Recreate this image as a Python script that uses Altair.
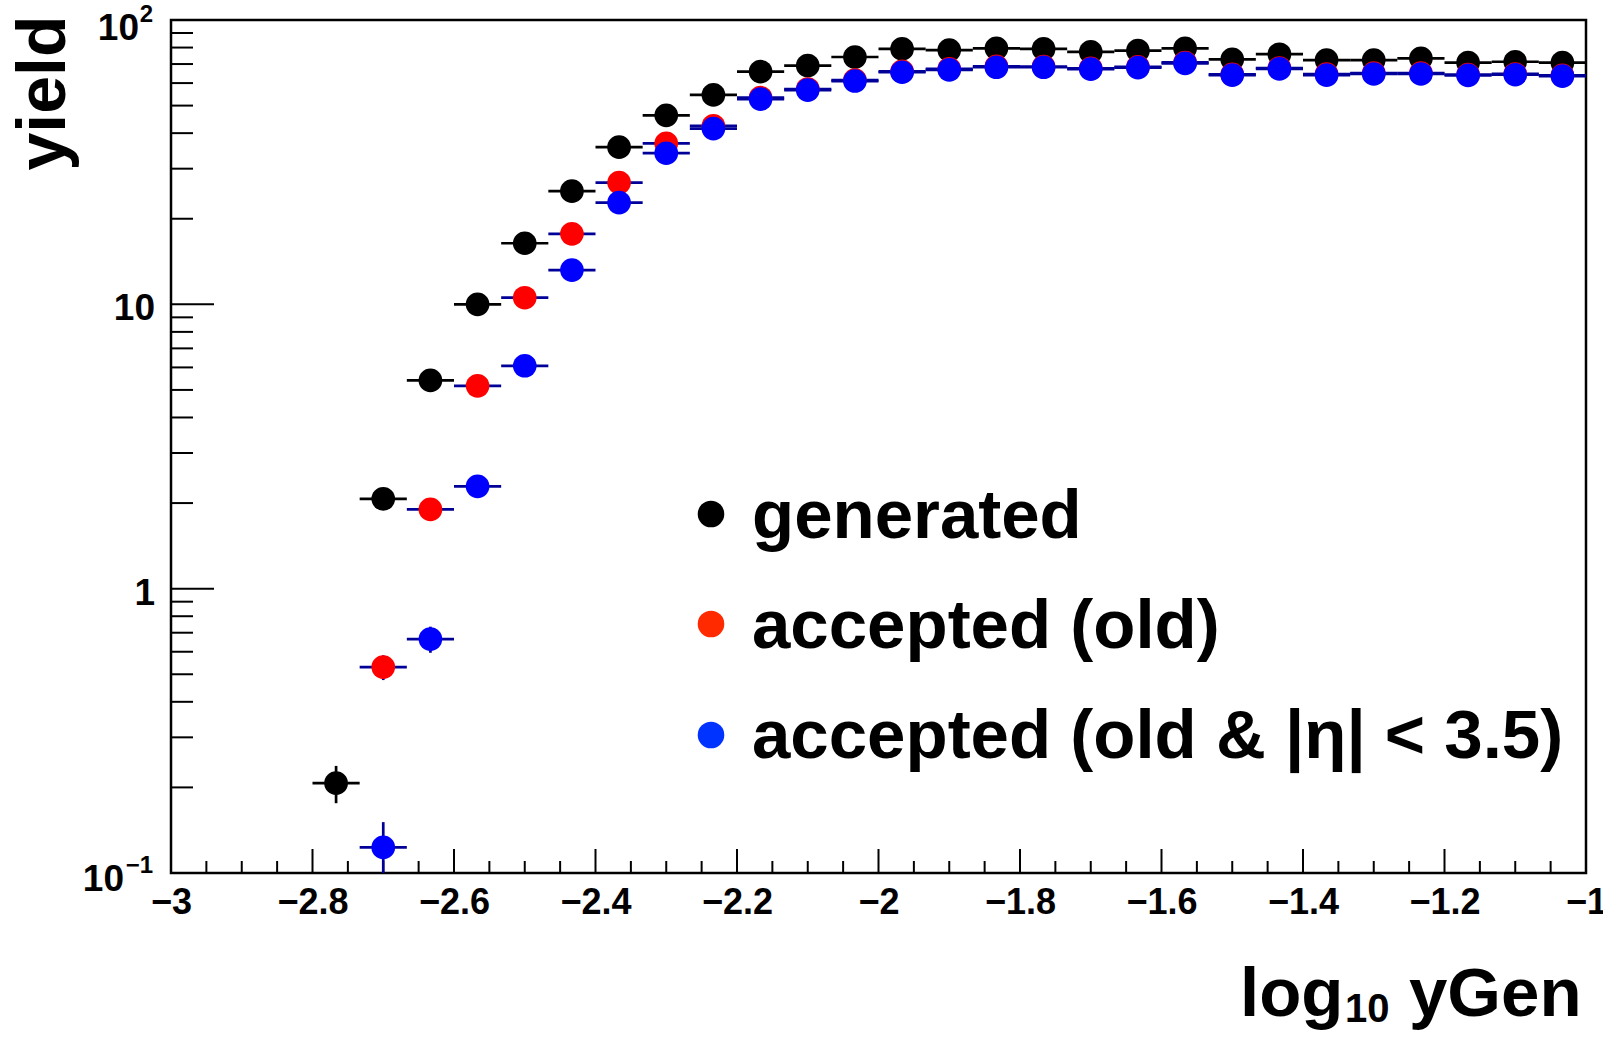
import altair as alt
import pandas as pd

# ---- histogram binning (30 bins of log10 yGen between -3 and -1) ----
x_lo, x_hi, n_bins = -3.0, -1.0, 30
bin_w = (x_hi - x_lo) / n_bins

# ---- data ----
gen_bins = list(range(3, 30))
gen_vals = [0.207, 2.07, 5.40, 10.0, 16.4, 25.0, 35.7, 46.2, 54.5, 65.8, 69.1, 74.1,
            79.1, 78.4, 79.5, 79.1, 77.2, 78.0, 79.5, 72.7, 75.8, 72.3, 72.3, 73.3,
            70.8, 71.3, 70.8]
gen_errs = [0.031, 0.10, 0.16, 0.22, 0.29, 0.35, 0.42, 0.48, 0.52, 0.57, 0.59, 0.61,
            0.63, 0.63, 0.63, 0.63, 0.62, 0.62, 0.63, 0.60, 0.62, 0.60, 0.60, 0.61,
            0.60, 0.60, 0.60]

old_bins = list(range(4, 30))
old_vals = [0.530, 1.90, 5.17, 10.55, 17.7, 26.8, 36.8, 42.4, 53.3, 57.2, 61.5, 66.0,
            67.3, 68.7, 68.6, 67.6, 68.4, 70.9, 64.4, 67.8, 64.5, 65.0, 65.1, 64.3,
            64.6, 63.9]
old_errs = [0.053, 0.10, 0.16, 0.23, 0.30, 0.37, 0.43, 0.46, 0.52, 0.54, 0.55, 0.57,
            0.58, 0.59, 0.59, 0.58, 0.58, 0.60, 0.57, 0.58, 0.57, 0.57, 0.57, 0.57,
            0.57, 0.57]

eta_bins = list(range(4, 30))
eta_vals = [0.123, 0.665, 2.29, 6.08, 13.2, 22.8, 34.0, 41.5, 52.7, 56.7, 61.0, 65.5,
            66.8, 68.2, 68.2, 67.2, 68.0, 70.4, 64.0, 67.3, 64.0, 64.6, 64.6, 63.9,
            64.2, 63.5]
eta_errs = [0.028, 0.07, 0.11, 0.17, 0.26, 0.34, 0.41, 0.46, 0.51, 0.53, 0.55, 0.57,
            0.58, 0.58, 0.58, 0.58, 0.58, 0.59, 0.57, 0.58, 0.57, 0.57, 0.57, 0.57,
            0.57, 0.56]

legend_labels = ["generated", "accepted (old)", "accepted (old & |\u03b7| < 3.5)"]
legend_colors = ["#000000", "#FF2A00", "#0033FF"]

x_major = [-3.0, -2.8, -2.6, -2.4, -2.2, -2.0, -1.8, -1.6, -1.4, -1.2, -1.0]
x_minor = [-2.95, -2.9, -2.85, -2.75, -2.7, -2.65, -2.55, -2.5, -2.45, -2.35, -2.3,
           -2.25, -2.15, -2.1, -2.05, -1.95, -1.9, -1.85, -1.75, -1.7, -1.65, -1.55,
           -1.5, -1.45, -1.35, -1.3, -1.25, -1.15, -1.1, -1.05]
y_major = [0.1, 1, 10, 100]
y_minor = [0.2, 0.3, 0.4, 0.5, 0.6, 0.7, 0.8, 0.9, 2, 3, 4, 5, 6, 7, 8, 9,
           20, 30, 40, 50, 60, 70, 80, 90]
# y tick labels: (value, mantissa text, exponent text)
y_labels = [(100, "10", "2"), (10, "10", ""), (1, "1", ""), (0.1, "10", "\u22121")]

FONT = "Liberation Sans, Arial, DejaVu Sans"
W, H = 1415, 853

xscale = alt.Scale(domain=[x_lo, x_hi], nice=False, zero=False)
yscale = alt.Scale(type="log", domain=[0.1, 100], nice=False)

x_axis = alt.Axis(values=x_major, labelExpr="format(datum.value, '.1~f')",
                  labelFont=FONT, labelFontSize=36, labelFontWeight="bold",
                  labelColor="black", labelPadding=12, labelFlush=False,
                  labelOverlap=False, ticks=False, domain=False, grid=False, title=None)
y_axis = alt.Axis(values=y_major, labels=False, ticks=False, domain=False, grid=False,
                  title="yield", titleFont=FONT, titleFontSize=68,
                  titleFontWeight="bold", titleColor="black", titleAngle=270,
                  titleAlign="right", titleBaseline="alphabetic",
                  titleX=-107, titleY=-5)


def X(field):
    return alt.X(field, scale=xscale, axis=x_axis)


def Y(field):
    return alt.Y(field, scale=yscale, axis=y_axis)


def frame(bins, vals, errs):
    lo = [x_lo + b * bin_w for b in bins]
    return pd.DataFrame({
        "lo": lo,
        "hi": [v + bin_w for v in lo],
        "c": [v + bin_w / 2 for v in lo],
        "v": vals,
        "ylo": [v - e for v, e in zip(vals, errs)],
        "yhi": [v + e for v, e in zip(vals, errs)],
    })


def series(df, color, bar_color):
    hbar = alt.Chart(df).mark_rule(color=bar_color, strokeWidth=2.7).encode(
        x=X("lo:Q"), x2="hi:Q", y=Y("v:Q"))
    vbar = alt.Chart(df).mark_rule(color=bar_color, strokeWidth=2.7, clip=True).encode(
        x=X("c:Q"), y=Y("ylo:Q"), y2="yhi:Q")
    pts = alt.Chart(df).mark_point(filled=True, shape="circle", size=560, color=color,
                                   opacity=1, strokeWidth=0).encode(
        x=X("c:Q"), y=Y("v:Q"))
    return [hbar, vbar, pts]


xt_major = alt.Chart(pd.DataFrame({"t": x_major})).mark_rule(color="black", strokeWidth=2).encode(
    x=X("t:Q"), y=alt.value(H), y2=alt.value(H - 24))
xt_minor = alt.Chart(pd.DataFrame({"t": x_minor})).mark_rule(color="black", strokeWidth=2).encode(
    x=X("t:Q"), y=alt.value(H), y2=alt.value(H - 12))
yt_major = alt.Chart(pd.DataFrame({"t": y_major})).mark_rule(color="black", strokeWidth=2).encode(
    y=Y("t:Q"), x=alt.value(0), x2=alt.value(43))
yt_minor = alt.Chart(pd.DataFrame({"t": y_minor})).mark_rule(color="black", strokeWidth=2).encode(
    y=Y("t:Q"), x=alt.value(0), x2=alt.value(22))

layers = [xt_major, xt_minor, yt_major, yt_minor]

# y tick labels with real superscripts
for val, mant, expo in y_labels:
    d = pd.DataFrame({"v": [val], "m": [mant], "e": [expo]})
    if expo:
        sup_w = 14 if len(expo) == 1 else 29
        main_dy = 20 if val >= 100 else 18
        layers.append(alt.Chart(d).mark_text(
            align="right", baseline="alphabetic", font=FONT, fontSize=37,
            fontWeight="bold", color="black", dy=main_dy).encode(
            x=alt.value(-18 - sup_w), y=Y("v:Q"), text="m:N"))
        layers.append(alt.Chart(d).mark_text(
            align="right", baseline="alphabetic", font=FONT, fontSize=24,
            fontWeight="bold", color="black", dy=main_dy - 18).encode(
            x=alt.value(-18), y=Y("v:Q"), text="e:N"))
    else:
        layers.append(alt.Chart(d).mark_text(
            align="right", baseline="alphabetic", font=FONT, fontSize=37,
            fontWeight="bold", color="black", dy=16).encode(
            x=alt.value(-16), y=Y("v:Q"), text="m:N"))

layers += series(frame(gen_bins, gen_vals, gen_errs), "#000000", "#000000")
layers += series(frame(old_bins, old_vals, old_errs), "#FF0000", "#000099")
layers += series(frame(eta_bins, eta_vals, eta_errs), "#0000FF", "#000099")

# legend
leg_marker_y = [494, 604, 715]
leg_text_y = [518, 628, 738]
for lab, col, my, ty in zip(legend_labels, legend_colors, leg_marker_y, leg_text_y):
    d = pd.DataFrame({"t": [lab]})
    layers.append(alt.Chart(d).mark_point(filled=True, shape="circle", size=707,
                                          color=col, opacity=1, strokeWidth=0).encode(
        x=alt.value(540), y=alt.value(my)))
    layers.append(alt.Chart(d).mark_text(align="left", baseline="alphabetic", font=FONT,
                                         fontSize=69, fontWeight="bold", color="black").encode(
        x=alt.value(581), y=alt.value(ty), text="t:N"))

# x-axis title: log_10 yGen
title_parts = [("log", 69, 1069, 996), ("10", 40, 1174, 1002), ("yGen", 69, 1238, 996)]
for txt, fs, tx, ty in title_parts:
    layers.append(alt.Chart(pd.DataFrame({"t": [txt]})).mark_text(
        align="left", baseline="alphabetic", font=FONT, fontSize=fs,
        fontWeight="bold", color="black").encode(
        x=alt.value(tx), y=alt.value(ty), text="t:N"))

chart = alt.layer(*layers).properties(
    width=W, height=H,
    autosize=alt.AutoSizeParams(type="none"),
    padding={"left": 171, "top": 20, "right": 17, "bottom": 164},
).configure(background="white").configure_view(stroke="black", strokeWidth=2.5)

chart.save("out.html", embed_options={"renderer": "svg", "actions": False})
